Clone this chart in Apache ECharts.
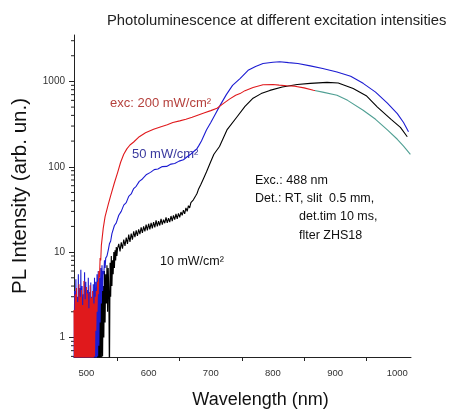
<!DOCTYPE html>
<html>
<head>
<meta charset="utf-8">
<title>Photoluminescence at different excitation intensities</title>
<script src="https://cdn.jsdelivr.net/npm/echarts@6/dist/echarts.min.js"></script>
<style>
  html, body { margin: 0; padding: 0; background: #fff; }
  #box { width: 450px; height: 414px; }
</style>
</head>
<body>
<div id="box"></div>
<script>
// wavelength (nm) / PL intensity
// exc: 200 mW/cm2
var wl200 = [480, 481, 482, 483, 484, 485, 486, 487, 488, 489, 490, 491, 492, 493, 494, 495, 496, 497, 498, 499,
  500, 501, 502, 503, 504, 505, 506, 507, 508, 509, 510, 511, 512, 513, 514, 515, 516, 517, 518, 519,
  520, 521, 522, 523, 524, 527, 530, 535, 539, 545, 550, 555, 560, 565, 570, 576, 585, 595, 608, 620,
  630, 639, 650, 660, 670, 680, 690, 700, 710, 720, 730, 740, 747, 755, 768, 784, 800, 810, 822, 835,
  850, 865, 880, 903, 920, 945, 965, 984, 1000, 1010, 1021];
var pl200 = [2.1, 0.4, 3.2, 0.5, 3.8, 0.4, 2.6, 0.5, 4.2, 0.4, 3.0, 0.5, 3.6, 0.4, 2.4, 0.5, 4.6, 0.4, 2.8, 0.5,
  3.9, 0.4, 3.3, 0.5, 2.2, 0.4, 4.1, 0.5, 2.9, 0.4, 3.5, 0.5, 2.5, 0.6, 3.0, 1.2, 3.5, 2.0, 4.5, 3.2,
  6.0, 5.0, 8.5, 8.0, 12, 19, 26, 36, 46, 65, 85, 113, 140, 162, 180, 195, 225, 250, 275, 295,
  310, 330, 345, 360, 380, 405, 430, 455, 485, 550, 620, 690, 720, 780, 850, 915, 920, 905, 890, 880,
  840, 790, 750, 690, 600, 460, 360, 270, 210, 175, 140];
// past this wavelength the 200 mW/cm2 trace is drawn in teal
var tealFrom = 865;

// 50 mW/cm2
var wl50 = [480, 481, 482, 483, 484, 485, 486, 487, 488, 489, 490, 491, 492, 493, 494, 495, 496, 497, 498, 499,
  500, 501, 502, 503, 504, 505, 506, 507, 508, 509, 510, 511, 512, 513, 514, 515, 516, 517, 518, 519,
  520, 521, 522, 523, 524, 525, 526, 527, 528, 529, 530, 531, 533, 535, 537, 539, 541, 543, 545, 548,
  552, 556, 560, 564, 568, 572, 576, 580, 585, 590, 596, 603, 609, 615, 622, 629, 636, 642, 649, 656,
  662, 667, 672, 677, 681, 685, 689, 693, 700, 707, 714, 725, 735, 747, 760, 772, 784, 800, 811, 825,
  840, 860, 880, 903, 925, 945, 965, 984, 1000, 1010, 1018];
var pl50 = [0.4, 3.5, 0.4, 4.8, 0.5, 3.0, 0.4, 5.5, 0.4, 3.8, 0.5, 6.2, 0.4, 4.0, 0.5, 3.2, 0.4, 5.8, 0.5, 4.5,
  0.4, 3.6, 0.5, 5.0, 0.4, 3.4, 0.5, 4.4, 0.4, 3.0, 0.5, 4.2, 0.4, 5.0, 0.5, 4.5, 0.4, 5.5, 0.6, 6.0,
  0.8, 5.0, 1.5, 6.5, 2.5, 7.0, 3.5, 6.0, 5.5, 8.0, 6.5, 8.5, 9.0, 10.5, 12.5, 13.5, 16.5, 16.2, 20.5, 22,
  27, 30, 35.5, 38, 45, 48, 55.5, 59, 67.5, 72, 80.5, 86, 92.5, 94, 100.5, 101, 107.5, 109, 116.5, 121,
  131, 139, 150, 160, 178, 200, 232, 270, 330, 410, 510, 700, 900, 1080, 1350, 1500, 1620, 1680, 1700, 1660,
  1620, 1520, 1420, 1290, 1150, 950, 750, 556, 420, 330, 258];

// 10 mW/cm2
var wl10 = [510, 511, 512, 513, 514, 515, 516, 517, 518, 519, 520, 521, 522, 523, 524, 525, 526, 527, 528, 529,
  530, 531, 532, 533, 534, 535, 536, 537, 538, 539, 540, 541, 542, 543, 544, 545, 546, 547, 548, 549,
  550, 552, 554, 556, 558, 560, 562, 564, 566, 568, 570, 572, 574, 576, 578, 580, 582, 584, 586, 588,
  590, 592, 594, 596, 598, 600, 602, 604, 606, 608, 610, 612, 614, 616, 618, 620, 622, 624, 626, 628,
  630, 632, 634, 636, 638, 640, 642, 644, 646, 648, 650, 652, 654, 656, 658, 660, 662, 664, 666, 668,
  670, 672, 674, 676, 678, 680, 684, 688, 693, 700, 705, 714, 726, 742, 755, 768, 781, 795, 815, 839,
  860, 887, 905, 929, 950, 968, 990, 1005, 1016];
var pl10 = [0.3, 1.5, 0.3, 2.2, 0.3, 3.0, 0.3, 2.5, 0.3, 3.8, 0.3, 4.5, 0.4, 3.2, 0.5, 5.0, 0.6, 4.0, 1.0, 6.0,
  1.5, 5.5, 2.5, 7.0, 2.0, 6.5, 3.5, 0.3, 7.5, 3.0, 9.0, 4.0, 8.0, 5.5, 10.0, 6.5, 10.5, 8.0, 11.5, 9.0,
  11.0, 12.5, 10.2, 13.0, 11.0, 14.0, 11.8, 14.8, 12.5, 16.0, 13.2, 16.5, 14.0, 17.5, 15.0, 18.0, 15.5, 18.5, 16.2, 19.5,
  16.8, 20.0, 17.5, 21.0, 18.0, 21.5, 18.5, 22.0, 19.0, 22.5, 19.5, 23.5, 20.0, 23.0, 20.5, 24.5, 21.0, 24.0, 21.8, 25.5,
  22.0, 25.0, 22.5, 26.5, 23.0, 27.0, 24.0, 28.0, 24.5, 28.5, 25.5, 29.5, 27.0, 31.0, 28.0, 33.0, 30.0, 35.0, 33.0, 38.0,
  37.0, 41.0, 42.0, 46.0, 49.0, 54.0, 62, 72, 87, 115, 140, 173, 270, 383, 510, 636, 720, 785, 860, 920,
  950, 975, 960, 825, 680, 500, 360, 290, 225];

var xLabels = [500, 600, 700, 800, 900, 1000];
var xTicks = [550, 650, 750, 850, 950];
var yMinorTicks = [0.6, 0.7, 0.8, 0.9, 2, 3, 4, 5, 6, 7, 8, 9, 20, 30, 40, 50, 60, 70, 80, 90,
  200, 300, 400, 500, 600, 700, 800, 900, 2000, 3000];

var xMin = 480, xMax = 1022, yMin = 0.59, yMax = 3500;

function pairs(xs, ys) {
  var out = [];
  for (var i = 0; i < xs.length; i++) out.push([xs[i], ys[i]]);
  return out;
}

// red -> teal split, as a fraction of the trace's own x span (x axis is linear)
var first = wl200[0], last = wl200[wl200.length - 1];
var cut = (tealFrom - first) / (last - first);
var redTeal = new echarts.graphic.LinearGradient(0, 0, 1, 0, [
  { offset: 0, color: "#e0191c" },
  { offset: cut, color: "#e0191c" },
  { offset: Math.min(1, cut + 0.002), color: "#4f9f93" },
  { offset: 1, color: "#4f9f93" }
]);

var font = '"Liberation Sans", Arial, sans-serif';
var myChart = echarts.init(document.getElementById("box"));
var option = {
  animation: false,
  textStyle: { fontFamily: font },
  title: {
    text: "Photoluminescence at different excitation intensities",
    left: 102,
    top: 8,
    textStyle: { fontSize: 14.8, fontWeight: "normal", color: "#222", fontFamily: font }
  },
  grid: { left: 74, right: 39, top: 35, bottom: 53 },
  xAxis: {
    type: "value",
    min: xMin,
    max: xMax,
    name: "Wavelength (nm)",
    nameLocation: "middle",
    nameGap: 34,
    nameTextStyle: { fontSize: 18, color: "#111", padding: [0, 0, 0, 36] },
    splitLine: { show: false },
    axisLine: { lineStyle: { color: "#222", width: 1 } },
    axisTick: { show: true, length: 4, customValues: xTicks, lineStyle: { color: "#222" } },
    axisLabel: {
      customValues: xLabels, fontSize: 9.5, color: "#333", margin: 11,
      formatter: function (v) { return String(v); }
    }
  },
  yAxis: {
    type: "log",
    logBase: 10,
    min: yMin,
    max: yMax,
    name: "PL Intensity (arb. un.)",
    nameLocation: "middle",
    nameGap: 43,
    nameTextStyle: { fontSize: 20.5, color: "#111" },
    splitLine: { show: false },
    axisLine: { show: true, lineStyle: { color: "#222", width: 1 } },
    axisTick: { show: true, length: 5, lineStyle: { color: "#222" } },
    axisLabel: {
      fontSize: 10, color: "#333", margin: 9,
      showMinLabel: false, showMaxLabel: false,
      formatter: function (v) { return String(Math.round(v)); }
    }
  },
  series: [
    {
      name: "10 mW/cm2", type: "line", data: pairs(wl10, pl10),
      showSymbol: false, lineStyle: { color: "#000", width: 1.1 }
    },
    {
      name: "50 mW/cm2", type: "line", data: pairs(wl50, pl50),
      showSymbol: false, lineStyle: { color: "#1c1cd2", width: 1.1 }
    },
    {
      name: "200 mW/cm2", type: "line", data: pairs(wl200, pl200),
      showSymbol: false, itemStyle: { color: "#e0191c" }, lineStyle: { color: redTeal, width: 1.1 }
    },
    {
      // minor ticks of the log axis (2..9 per decade)
      type: "custom",
      coordinateSystem: "cartesian2d",
      silent: true,
      clip: false,
      data: yMinorTicks.map(function (v) { return [xMin, v]; }),
      renderItem: function (params, api) {
        var p = api.coord([api.value(0), api.value(1)]);
        return {
          type: "line",
          shape: { x1: p[0] - 3, y1: p[1], x2: p[0], y2: p[1] },
          style: { stroke: "#222", lineWidth: 1 }
        };
      }
    }
  ],
  graphic: [
    { type: "text", x: 110, y: 103, style: { text: "exc: 200 mW/cm²", fill: "#b5403c", fontSize: 13, fontFamily: font, verticalAlign: "middle" } },
    { type: "text", x: 132, y: 154, style: { text: "50 mW/cm²", fill: "#3a3a9e", fontSize: 13, fontFamily: font, verticalAlign: "middle" } },
    { type: "text", x: 160, y: 262, style: { text: "10 mW/cm²", fill: "#111", fontSize: 12.5, fontFamily: font, verticalAlign: "middle" } },
    { type: "text", x: 255, y: 181, style: { text: "Exc.: 488 nm", fill: "#111", fontSize: 12.5, fontFamily: font, verticalAlign: "middle" } },
    { type: "text", x: 255, y: 199, style: { text: "Det.: RT, slit  0.5 mm,", fill: "#111", fontSize: 12.5, fontFamily: font, verticalAlign: "middle" } },
    { type: "text", x: 299, y: 217, style: { text: "det.tim 10 ms,", fill: "#111", fontSize: 12.5, fontFamily: font, verticalAlign: "middle" } },
    { type: "text", x: 299, y: 236, style: { text: "flter ZHS18", fill: "#111", fontSize: 12.5, fontFamily: font, verticalAlign: "middle" } }
  ]
};
myChart.setOption(option);
</script>
</body>
</html>
